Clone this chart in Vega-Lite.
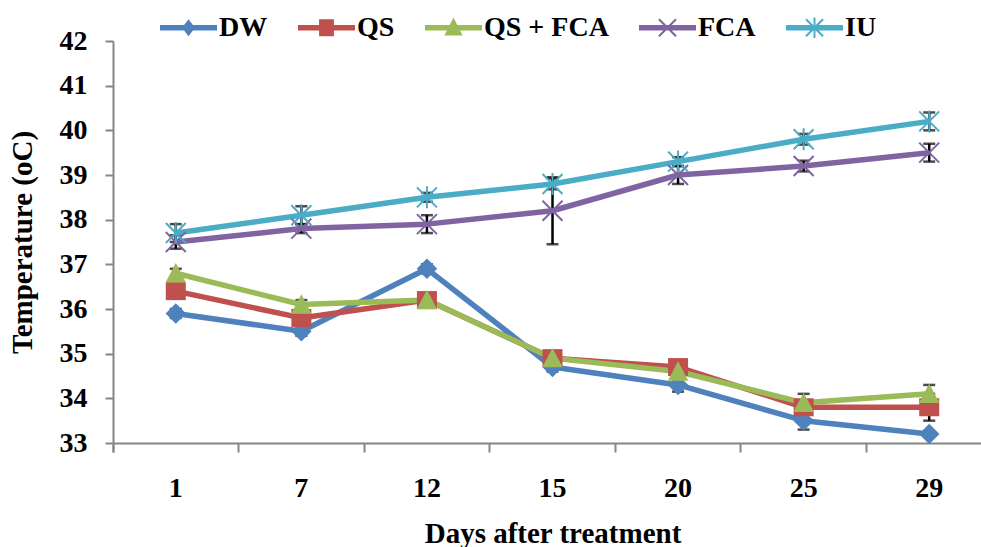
{
  "$schema": "https://vega.github.io/schema/vega-lite/v6.json",
  "autosize": {"type": "none"},
  "width": 868,
  "height": 402,
  "padding": {"left": 113, "top": 41, "right": 0, "bottom": 104},
  "background": "white",
  "config": {
    "view": {"stroke": null},
    "axis": {
      "grid": false,
      "domainColor": "#868686",
      "domainWidth": 2,
      "tickColor": "#868686",
      "tickWidth": 2,
      "labelFont": "Liberation Serif",
      "labelFontWeight": "bold",
      "labelFontSize": 28,
      "labelColor": "black",
      "titleFont": "Liberation Serif",
      "titleFontWeight": "bold",
      "titleFontSize": 29,
      "titleColor": "black"
    }
  },
  "data": {
    "values": [
      {"day": 1, "series": "DW", "value": 35.9, "err": 0.1},
      {"day": 7, "series": "DW", "value": 35.5, "err": 0.1},
      {"day": 12, "series": "DW", "value": 36.9, "err": 0.1},
      {"day": 15, "series": "DW", "value": 34.7, "err": 0.1},
      {"day": 20, "series": "DW", "value": 34.3, "err": 0.15},
      {"day": 25, "series": "DW", "value": 33.5, "err": 0.2},
      {"day": 29, "series": "DW", "value": 33.2, "err": 0.05},
      {"day": 1, "series": "QS", "value": 36.4, "err": 0.1},
      {"day": 7, "series": "QS", "value": 35.8, "err": 0.1},
      {"day": 12, "series": "QS", "value": 36.2, "err": 0.1},
      {"day": 15, "series": "QS", "value": 34.9, "err": 0.1},
      {"day": 20, "series": "QS", "value": 34.7, "err": 0.1},
      {"day": 25, "series": "QS", "value": 33.8, "err": 0.1},
      {"day": 29, "series": "QS", "value": 33.8, "err": 0.3},
      {"day": 1, "series": "QS + FCA", "value": 36.8, "err": 0.1},
      {"day": 7, "series": "QS + FCA", "value": 36.1, "err": 0.1},
      {"day": 12, "series": "QS + FCA", "value": 36.2, "err": 0.1},
      {"day": 15, "series": "QS + FCA", "value": 34.9, "err": 0.1},
      {"day": 20, "series": "QS + FCA", "value": 34.6, "err": 0.1},
      {"day": 25, "series": "QS + FCA", "value": 33.9, "err": 0.2},
      {"day": 29, "series": "QS + FCA", "value": 34.1, "err": 0.2},
      {"day": 1, "series": "FCA", "value": 37.5, "err": 0.15},
      {"day": 7, "series": "FCA", "value": 37.8, "err": 0.1},
      {"day": 12, "series": "FCA", "value": 37.9, "err": 0.2},
      {"day": 15, "series": "FCA", "value": 38.2, "err": 0.75},
      {"day": 20, "series": "FCA", "value": 39.0, "err": 0.2},
      {"day": 25, "series": "FCA", "value": 39.2, "err": 0.12},
      {"day": 29, "series": "FCA", "value": 39.5, "err": 0.2},
      {"day": 1, "series": "IU", "value": 37.7, "err": 0.2},
      {"day": 7, "series": "IU", "value": 38.1, "err": 0.2},
      {"day": 12, "series": "IU", "value": 38.5, "err": 0.1},
      {"day": 15, "series": "IU", "value": 38.8, "err": 0.12},
      {"day": 20, "series": "IU", "value": 39.3, "err": 0.1},
      {"day": 25, "series": "IU", "value": 39.8, "err": 0.12},
      {"day": 29, "series": "IU", "value": 40.2, "err": 0.2}
    ]
  },
  "encoding": {
    "x": {
      "field": "day",
      "type": "ordinal",
      "sort": [1, 7, 12, 15, 20, 25, 29],
      "scale": {"type": "band", "paddingInner": 0, "paddingOuter": 0, "range": [0, 879]},
      "axis": {
        "title": "Days after treatment",
        "labelAngle": 0,
        "bandPosition": 0,
        "tickExtra": true,
        "tickSize": 9,
        "labelPadding": 22,
        "titlePadding": 17
      }
    },
    "y": {
      "field": "value",
      "type": "quantitative",
      "scale": {"domain": [33, 42], "zero": false, "nice": false},
      "axis": {
        "title": "Temperature (oC)",
        "values": [33, 34, 35, 36, 37, 38, 39, 40, 41, 42],
        "tickSize": 8,
        "labelPadding": 18,
        "titlePadding": 22
      }
    }
  },
  "layer": [
    {
      "transform": [{"filter": "datum.day < 0"}],
      "mark": {"type": "point", "filled": true, "opacity": 1},
      "encoding": {
        "color": {
          "field": "series",
          "type": "nominal",
          "scale": {
            "domain": ["DW", "QS", "QS + FCA", "FCA", "IU"],
            "range": ["#4F81BD", "#C0504D", "#9BBB59", "#8064A2", "#4BACC6"]
          },
          "legend": {
            "title": null,
            "orient": "none",
            "direction": "horizontal",
            "columns": 5,
            "legendX": 47,
            "legendY": -42,
            "padding": 0,
            "symbolSize": 3249,
            "symbolStrokeWidth": 0,
            "symbolOpacity": 1,
            "columnPadding": 30,
            "labelOffset": 2,
            "labelFont": "Liberation Serif",
            "labelFontWeight": "bold",
            "labelFontSize": 28,
            "labelColor": "black",
            "labelLimit": 300
          }
        },
        "shape": {
          "field": "series",
          "type": "nominal",
          "scale": {
            "domain": ["DW", "QS", "QS + FCA", "FCA", "IU"],
            "range": [
              "M-1,-0.1H1V0.1H-1Z M0,-0.3L0.23,0L0,0.3L-0.23,0Z",
              "M-1,-0.1H1V0.1H-1Z M-0.26,-0.3H0.26V0.3H-0.26Z",
              "M-1,-0.1H1V0.1H-1Z M0,-0.36L0.32,0.27H-0.32Z",
              "M-1,-0.1H1V0.1H-1Z M-0.275,-0.325L0.325,0.275L0.275,0.325L-0.325,-0.275Z M-0.325,0.275L0.275,-0.325L0.325,-0.275L-0.275,0.325Z",
              "M-1,-0.1H1V0.1H-1Z M-0.275,-0.325L0.325,0.275L0.275,0.325L-0.325,-0.275Z M-0.325,0.275L0.275,-0.325L0.325,-0.275L-0.275,0.325Z M-0.035,-0.36H0.035V0.36H-0.035Z"
            ]
          }
        }
      }
    },
    {
      "mark": {"type": "errorbar", "ticks": true, "size": 12, "thickness": 2.5, "color": "black"},
      "encoding": {
        "y": {"field": "value", "type": "quantitative", "title": "Temperature (oC)"},
        "yError": {"field": "err"},
        "detail": {"field": "series"}
      }
    },
    {
      "mark": {"type": "line", "strokeWidth": 5.5, "strokeJoin": "round"},
      "encoding": {
        "stroke": {
          "field": "series",
          "type": "nominal",
          "scale": {
            "domain": ["DW", "QS", "QS + FCA", "FCA", "IU"],
            "range": ["#4F81BD", "#C0504D", "#9BBB59", "#8064A2", "#4BACC6"]
          },
          "legend": null
        }
      }
    },
    {
      "transform": [{"filter": "datum.series === 'DW'"}],
      "mark": {"type": "point", "shape": "M0,-1L1,0L0,1L-1,0Z", "size": 420, "filled": true, "fill": "#4F81BD", "opacity": 1, "strokeWidth": 0},
      "encoding": {}
    },
    {
      "transform": [{"filter": "datum.series === 'QS'"}],
      "mark": {"type": "point", "shape": "M-1,-0.9H1V0.9H-1Z", "size": 400, "filled": true, "fill": "#C0504D", "opacity": 1, "strokeWidth": 0},
      "encoding": {}
    },
    {
      "transform": [{"filter": "datum.series === 'QS + FCA'"}],
      "mark": {"type": "point", "shape": "M0,-1L1,0.9H-1Z", "size": 420, "filled": true, "fill": "#9BBB59", "opacity": 1, "strokeWidth": 0},
      "encoding": {}
    },
    {
      "transform": [{"filter": "datum.series === 'FCA'"}],
      "mark": {"type": "point", "shape": "M-1,-1L1,1M-1,1L1,-1", "size": 400, "filled": false, "stroke": "#8064A2", "opacity": 1, "strokeWidth": 2},
      "encoding": {}
    },
    {
      "transform": [{"filter": "datum.series === 'IU'"}],
      "mark": {"type": "point", "shape": "M-1,-1L1,1M-1,1L1,-1M0,-1.1L0,1.1", "size": 400, "filled": false, "stroke": "#4BACC6", "opacity": 1, "strokeWidth": 2},
      "encoding": {}
    }
  ]
}
